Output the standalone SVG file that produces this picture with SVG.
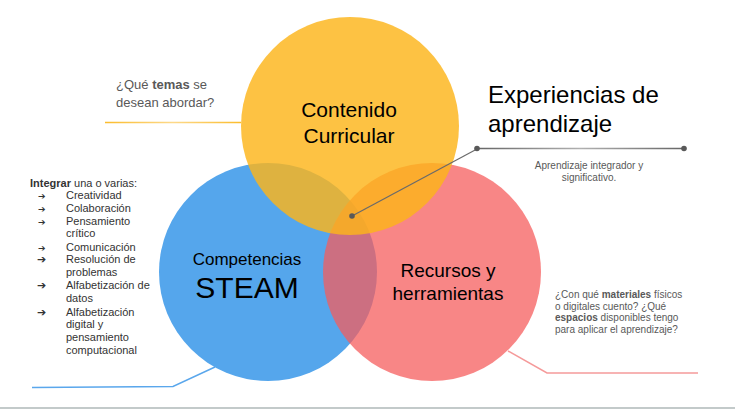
<svg xmlns="http://www.w3.org/2000/svg" width="735" height="414" viewBox="0 0 735 414">
<style>
text{font-family:"Liberation Sans",Arial,sans-serif}
.lbl{fill:#000}
.note{fill:#595959}
.list{fill:#333;font-size:11px}
.arr{font-family:"DejaVu Sans",sans-serif;fill:#333}
.dot{fill:#595959}
</style>
<defs>
<linearGradient id="gy" gradientUnits="userSpaceOnUse" x1="105" y1="0" x2="241" y2="0"><stop offset="0" stop-color="#fbbc2c"/><stop offset="0.5" stop-color="#fdd98a"/><stop offset="1" stop-color="#fbbc2c"/></linearGradient>
<linearGradient id="gg" gradientUnits="userSpaceOnUse" x1="477" y1="0" x2="684" y2="0"><stop offset="0" stop-color="#666"/><stop offset="0.5" stop-color="#b0b0b0"/><stop offset="1" stop-color="#666"/></linearGradient>
</defs>
<rect width="735" height="414" fill="#fff"/>
<g id="connectors" fill="none">
<line x1="105" y1="122.5" x2="241" y2="122.5" stroke="url(#gy)" stroke-width="1.5"/>
<polyline points="32,387.5 173,386.5 215,367" stroke="#5aa7ec" stroke-width="1.5"/>
<polyline points="508,351 547,373 698,373" stroke="#f59a9a" stroke-width="1.5"/>
</g>
<g id="node-competencias">
<circle cx="268" cy="272" r="109" fill="#55a6ec"/>
<text class="lbl" x="247" y="265" font-size="17" text-anchor="middle">Competencias</text>
<text class="lbl" x="247" y="298" font-size="30" text-anchor="middle">STEAM</text>
</g>
<g id="node-recursos">
<circle cx="432" cy="272" r="109" fill="#f65c5c" fill-opacity="0.74"/>
<text class="lbl" x="448" y="277" font-size="19" text-anchor="middle">Recursos y</text>
<text class="lbl" x="448" y="300" font-size="19" text-anchor="middle">herramientas</text>
</g>
<g id="node-contenido">
<circle cx="350" cy="126" r="109" fill="#fdb51a" fill-opacity="0.82"/>
<text class="lbl" x="349" y="117" font-size="21" text-anchor="middle">Contenido</text>
<text class="lbl" x="349" y="143" font-size="21" text-anchor="middle">Curricular</text>
</g>
<g id="node-experiencias">
<line x1="352" y1="216" x2="477" y2="149" stroke="#6a6a6a" stroke-width="1.2"/>
<line x1="477" y1="148.5" x2="684" y2="148.5" stroke="url(#gg)" stroke-width="1.5"/>
<circle class="dot" cx="352" cy="216" r="2.8"/>
<circle class="dot" cx="477" cy="148.5" r="2.8"/>
<circle class="dot" cx="684" cy="148.5" r="2.8"/>
<text class="lbl" x="488" y="103" font-size="24">Experiencias de</text>
<text class="lbl" x="488" y="132" font-size="24">aprendizaje</text>
<text class="note" x="589" y="169" font-size="10" text-anchor="middle">Aprendizaje integrador y</text>
<text class="note" x="589" y="181" font-size="10" text-anchor="middle">significativo.</text>
</g>
<g id="note-temas" class="note" font-size="13">
<text x="116" y="89">¿Qué <tspan font-weight="bold">temas</tspan> se</text>
<text x="116" y="107">desean abordar?</text>
</g>
<g id="note-materiales" class="note" font-size="10">
<text x="555" y="298">¿Con qué <tspan font-weight="bold">materiales</tspan> físicos</text>
<text x="555" y="309.5">o digitales cuento? ¿Qué</text>
<text x="555" y="321"><tspan font-weight="bold">espacios</tspan> disponibles tengo</text>
<text x="555" y="332.5">para aplicar el aprendizaje?</text>
</g>
<g id="note-integrar" class="list">
<text x="30" y="187"><tspan font-weight="bold">Integrar</tspan> una o varias:</text>
<text class="arr" x="38" y="199" font-size="9">➔</text><text x="66" y="199">Creatividad</text>
<text class="arr" x="38" y="212" font-size="9">➔</text><text x="66" y="212">Colaboración</text>
<text class="arr" x="38" y="225" font-size="9">➔</text><text x="66" y="225">Pensamiento</text>
<text x="66" y="237">crítico</text>
<text class="arr" x="38" y="251" font-size="9">➔</text><text x="66" y="251">Comunicación</text>
<text class="arr" x="37" y="263" font-size="11">➔</text><text x="66" y="263">Resolución de</text>
<text x="66" y="276">problemas</text>
<text class="arr" x="37" y="289" font-size="11">➔</text><text x="66" y="289">Alfabetización de</text>
<text x="66" y="302">datos</text>
<text class="arr" x="37" y="316" font-size="11">➔</text><text x="66" y="316">Alfabetización</text>
<text x="66" y="328">digital y</text>
<text x="66" y="341">pensamiento</text>
<text x="66" y="354">computacional</text>
</g>
<line x1="0" y1="408" x2="735" y2="408" stroke="#c3caca" stroke-width="2"/>
</svg>
